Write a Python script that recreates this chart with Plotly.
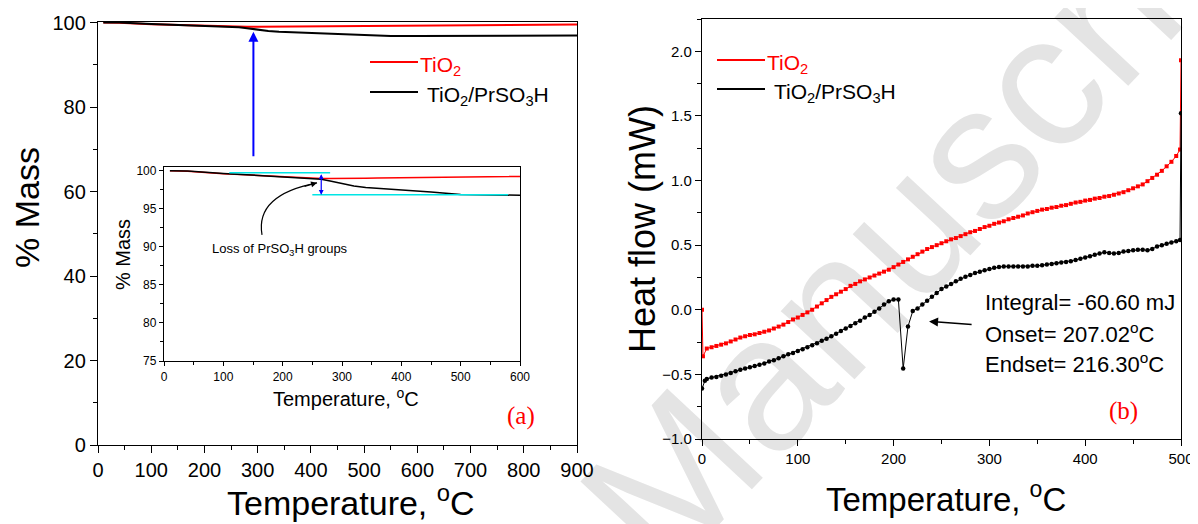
import plotly.graph_objects as go

# page body has an 8px margin: the figure is sized/offset so reference pixel coords map 1:1
OFF = 8
W, H = 1198 - OFF, 524 - OFF

# ---------------- (a) TGA data ----------------
tga_T = [10, 40, 100, 150, 200, 250, 265, 280, 300, 320, 340, 360, 400, 450, 500, 550, 600, 700, 800, 900]
tga_tio2 = [100.0, 99.95, 99.6, 99.4, 99.2, 99.05, 99.0, 99.0, 98.98, 99.0, 99.02, 99.04, 99.05, 99.08,
            99.12, 99.15, 99.2, 99.35, 99.45, 99.55]
tga_tio2_pr = [100.0, 99.98, 99.65, 99.45, 99.2, 99.0, 98.9, 98.65, 98.3, 98.0, 97.8, 97.7, 97.5, 97.2,
               96.9, 96.8, 96.78, 96.8, 96.85, 96.9]

# inset guide lines (cyan) and loss arrow
cyan_upper = dict(x0=110, x1=280, y=99.75)
cyan_lower = dict(x0=250, x1=580, y=96.85)
loss_arrow_T = 265

# ---------------- (b) DSC data ----------------
dsc_T_tio2 = [0, 1, 5, 10, 15, 20, 25, 30, 35, 40, 45,
              50, 55, 60, 65, 70, 75, 80, 85, 90, 95,
              100, 105, 110, 115, 120, 125, 130, 135, 140, 145,
              150, 155, 160, 165, 170, 175, 180, 185, 190, 195,
              200, 205, 210, 215, 220, 225, 230, 235, 240, 245,
              250, 255, 260, 265, 270, 275, 280, 285, 290, 295,
              300, 305, 310, 315, 320, 325, 330, 335, 340, 345,
              350, 355, 360, 365, 370, 375, 380, 385, 390, 395,
              400, 405, 410, 415, 420, 425, 430, 435, 440, 445,
              450, 455, 460, 465, 470, 475, 480, 485, 490, 495,
              499, 500]
dsc_tio2 = [0.0, -0.36, -0.30, -0.29, -0.28, -0.27, -0.26, -0.245, -0.23, -0.215, -0.205,
            -0.195, -0.19, -0.18, -0.17, -0.16, -0.145, -0.13, -0.115, -0.095, -0.075,
            -0.06, -0.04, -0.02, 0.0, 0.025, 0.05, 0.075, 0.10, 0.12, 0.14,
            0.16, 0.185, 0.20, 0.22, 0.235, 0.25, 0.265, 0.28, 0.295, 0.31,
            0.33, 0.35, 0.37, 0.39, 0.41, 0.43, 0.45, 0.47, 0.485, 0.50,
            0.515, 0.53, 0.545, 0.555, 0.57, 0.585, 0.60, 0.61, 0.625, 0.64,
            0.65, 0.665, 0.675, 0.685, 0.70, 0.71, 0.72, 0.73, 0.745, 0.755,
            0.765, 0.775, 0.78, 0.79, 0.795, 0.805, 0.81, 0.82, 0.83, 0.835,
            0.845, 0.85, 0.86, 0.865, 0.875, 0.88, 0.89, 0.90, 0.91, 0.925,
            0.94, 0.955, 0.97, 0.995, 1.02, 1.045, 1.075, 1.11, 1.145, 1.19,
            1.24, 1.93]

dsc_T_pr = [0, 3, 5, 10, 15, 20, 25, 30, 35, 40, 45,
            50, 55, 60, 65, 70, 75, 80, 85, 90, 95,
            100, 105, 110, 115, 120, 125, 130, 135, 140, 145,
            150, 155, 160, 165, 170, 175, 180, 185, 190, 195,
            200, 205, 210, 215, 220, 225, 230, 235, 240, 245,
            250, 255, 260, 265, 270, 275, 280, 285, 290, 295,
            300, 305, 310, 315, 320, 325, 330, 335, 340, 345,
            350, 355, 360, 365, 370, 375, 380, 385, 390, 395,
            400, 405, 410, 415, 420, 425, 430, 435, 440, 445,
            450, 455, 460, 465, 470, 475, 480, 485, 490, 495,
            499, 500]
dsc_pr = [-0.61, -0.55, -0.535, -0.525, -0.52, -0.51, -0.50, -0.49, -0.475, -0.465, -0.455,
          -0.445, -0.435, -0.425, -0.415, -0.40, -0.39, -0.375, -0.36, -0.345, -0.335,
          -0.32, -0.305, -0.29, -0.275, -0.26, -0.24, -0.225, -0.205, -0.185, -0.165,
          -0.145, -0.125, -0.105, -0.085, -0.06, -0.04, -0.015, 0.01, 0.04, 0.065,
          0.08, 0.08, -0.455, -0.13, -0.01, 0.01, 0.04, 0.07, 0.10, 0.13,
          0.16, 0.18, 0.20, 0.22, 0.24, 0.255, 0.27, 0.285, 0.295, 0.305,
          0.315, 0.325, 0.33, 0.335, 0.335, 0.335, 0.335, 0.335, 0.335, 0.34,
          0.34, 0.345, 0.35, 0.355, 0.36, 0.365, 0.37, 0.375, 0.385, 0.395,
          0.405, 0.415, 0.425, 0.435, 0.445, 0.44, 0.435, 0.44, 0.45, 0.455,
          0.46, 0.465, 0.465, 0.46, 0.47, 0.49, 0.50, 0.51, 0.52, 0.53,
          0.54, 1.52]

dsc_notes = ["Integral= -60.60 mJ", "Onset= 207.02<sup>o</sup>C", "Endset= 216.30<sup>o</sup>C"]

FONT = "Liberation Sans, Arial, sans-serif"
SERIF = "Liberation Serif, Times New Roman, serif"


def px(x):
    return (x - OFF) / W


def py(y):
    return 1 - (y - OFF) / H


fig = go.Figure()

# (a) main
fig.add_trace(go.Scatter(x=tga_T, y=tga_tio2, xaxis="x", yaxis="y", mode="lines",
                         line=dict(color="#ff0000", width=2), showlegend=False))
fig.add_trace(go.Scatter(x=tga_T, y=tga_tio2_pr, xaxis="x", yaxis="y", mode="lines",
                         line=dict(color="black", width=2), showlegend=False))
# (a) inset
fig.add_trace(go.Scatter(x=tga_T, y=tga_tio2, xaxis="x2", yaxis="y2", mode="lines",
                         line=dict(color="#ff0000", width=1.5), showlegend=False))
fig.add_trace(go.Scatter(x=tga_T, y=tga_tio2_pr, xaxis="x2", yaxis="y2", mode="lines",
                         line=dict(color="black", width=1.5), showlegend=False))
# (b)
fig.add_trace(go.Scatter(x=dsc_T_tio2, y=dsc_tio2, xaxis="x3", yaxis="y3", mode="lines+markers",
                         line=dict(color="#ff0000", width=1),
                         marker=dict(color="#ff0000", size=4, symbol="square"), showlegend=False))
fig.add_trace(go.Scatter(x=dsc_T_pr, y=dsc_pr, xaxis="x3", yaxis="y3", mode="lines+markers",
                         line=dict(color="black", width=1),
                         marker=dict(color="black", size=4.5), showlegend=False))


def axis(domain, rng, dtick, minor_dtick, fsize, anchor, ticklen=6, fmt=None):
    d = dict(domain=domain, range=rng, dtick=dtick, tick0=0, anchor=anchor, automargin=False,
             showline=True, linecolor="black", linewidth=1.3, mirror=True,
             ticks="outside", ticklen=ticklen, tickwidth=1.2, tickcolor="black",
             minor=dict(dtick=minor_dtick, ticks="outside", ticklen=ticklen * 0.6,
                        tickcolor="black", tickwidth=1.2, showgrid=False),
             showgrid=False, zeroline=False,
             tickfont=dict(family=FONT, size=fsize, color="black"))
    if fmt:
        d["tickformat"] = fmt
    return d


fig.update_layout(
    template="none",
    width=W, height=H,
    margin=dict(l=0, r=0, t=0, b=0, pad=0),
    paper_bgcolor="white", plot_bgcolor="rgba(0,0,0,0)",
    showlegend=False,
    xaxis=axis([px(98), px(577)], [0, 900], 100, 50, 20, "y", ticklen=7),
    yaxis=axis([py(445), py(21.5)], [0, 100.24], 20, 10, 20, "x", ticklen=7),
    xaxis2=axis([px(164), px(520)], [0, 600], 100, 50, 12, "y2", ticklen=4),
    yaxis2=axis([py(361), py(167)], [75, 100.5], 5, 2.5, 12, "x2", ticklen=4),
    xaxis3=axis([px(702), px(1181)], [0, 500], 100, 50, 15, "y3", ticklen=6),
    yaxis3=axis([py(439), py(19)], [-1.0, 2.25], 0.5, 0.25, 15, "x3", ticklen=6, fmt=".1f"),
)

ann = []
shapes = []


def paper_text(text, x, y, size, color="black", angle=0, xanchor="center", family=FONT):
    ann.append(dict(text=text, x=px(x), y=py(y), xref="paper", yref="paper", showarrow=False,
                    font=dict(family=family, size=size, color=color), textangle=angle,
                    xanchor=xanchor, yanchor="middle"))


# axis titles
paper_text("% Mass", 27, 208, 34, angle=-90)
paper_text("Temperature, <sup>o</sup>C", 351, 500, 34)
paper_text("% Mass", 123, 255, 20, angle=-90)
paper_text("Temperature, <sup>o</sup>C", 346, 397, 20)
paper_text("Heat flow (mW)", 642, 229, 36, angle=-90)
paper_text("Temperature, <sup>o</sup>C", 946, 497, 33)

# panel labels
paper_text("(a)", 521, 416, 25, color="#ff0000", family=SERIF)
paper_text("(b)", 1123, 411, 25, color="#ff0000", family=SERIF)

# legends (drawn as line samples + text)
for (x0, x1, y, tx, col, label) in [
    (370, 418, 62, 418, "#ff0000", "TiO<sub>2</sub>"),
    (370, 418, 92, 425, "black", "TiO<sub>2</sub>/PrSO<sub>3</sub>H"),
    (717, 765, 60, 765, "#ff0000", "TiO<sub>2</sub>"),
    (717, 765, 89, 772, "black", "TiO<sub>2</sub>/PrSO<sub>3</sub>H"),
]:
    shapes.append(dict(type="line", xref="paper", yref="paper", x0=px(x0), x1=px(x1),
                       y0=py(y), y1=py(y), line=dict(color=col, width=2)))
    paper_text(label, tx, y + 4, 21, color=col, xanchor="left")

# DSC notes
for i, t in enumerate(dsc_notes):
    paper_text(t, 983, 302 + 30.5 * i, 22, xanchor="left")

# DSC arrow
ann.append(dict(x=237, y=-0.09, ax=283, ay=-0.115, xref="x3", yref="y3", axref="x3", ayref="y3",
                text="", showarrow=True, arrowhead=2, arrowsize=1.2, arrowwidth=1.5, arrowcolor="black"))

# main blue arrow
ann.append(dict(x=292, y=97.8, ax=292, ay=68, xref="x", yref="y", axref="x", ayref="y",
                text="", showarrow=True, arrowhead=2, arrowsize=1, arrowwidth=2, arrowcolor="#0000ff"))

# inset cyan lines
for c in (cyan_upper, cyan_lower):
    shapes.append(dict(type="line", xref="x2", yref="y2", x0=c["x0"], x1=c["x1"], y0=c["y"], y1=c["y"],
                       line=dict(color="#00e5e5", width=1.5)))
# inset double blue arrow
ann.append(dict(x=loss_arrow_T, y=cyan_lower["y"], ax=loss_arrow_T, ay=cyan_upper["y"],
                xref="x2", yref="y2", axref="x2", ayref="y2", text="", showarrow=True,
                arrowhead=2, startarrowhead=2, arrowside="end+start", arrowsize=0.8,
                startarrowsize=0.8, arrowwidth=1.2, arrowcolor="#0000ff"))

# inset annotation text and curved arrow
ann.append(dict(text="Loss of PrSO<sub>3</sub>H groups", x=195.5, y=89.7, xref="x2", yref="y2",
                showarrow=False, font=dict(family=FONT, size=13, color="black")))
shapes.append(dict(type="path", xref="x2", yref="y2",
                   path="M 165.2,91.58 Q 153.4,96.84 257.9,98.42",
                   line=dict(color="black", width=1.2)))
ann.append(dict(x=257.9, y=98.42, xref="x2", yref="y2", ax=-14, ay=4, text="", showarrow=True,
                arrowhead=2, arrowsize=1, arrowwidth=1.2, arrowcolor="black"))

# watermark (behind)
shapes.append(dict(type="rect", xref="paper", yref="paper", x0=px(920), x1=px(922), y0=py(186), y1=py(184),
                   line=dict(width=0), fillcolor="rgba(0,0,0,0)", layer="below",
                   label=dict(text="Manuscript", textangle=-47, textposition="middle center",
                              font=dict(family=FONT, size=190, color="#e4e4e4"))))

fig.update_layout(annotations=ann, shapes=shapes)
fig.write_html("out.html")
